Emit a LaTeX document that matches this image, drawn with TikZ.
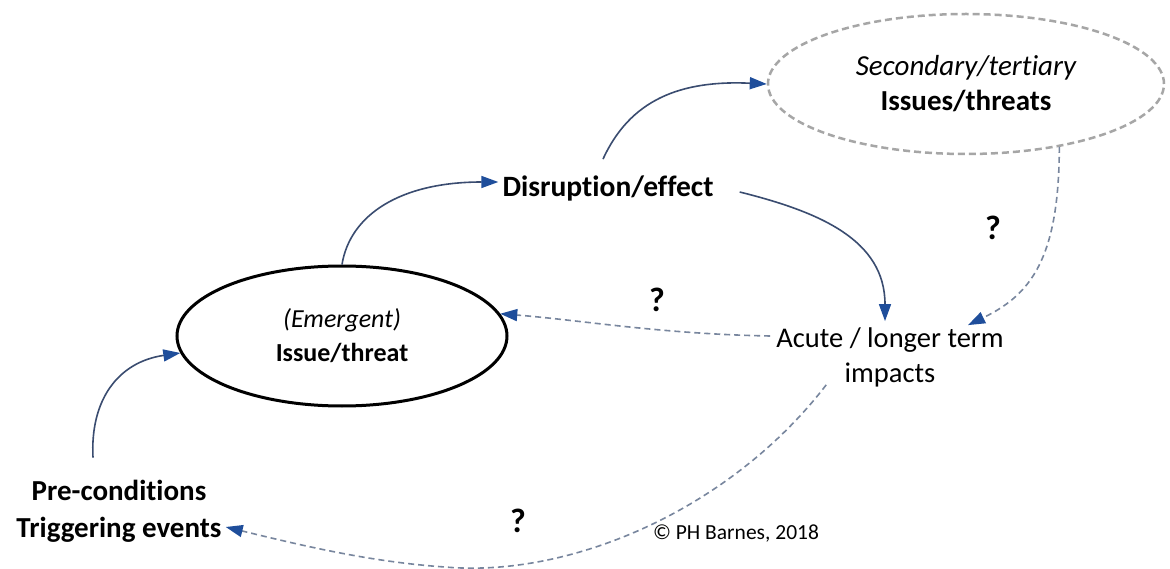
\documentclass[tikz,border=0pt]{standalone}
\usepackage{fontspec}
\setmainfont{Carlito}[Ligatures=NoCommon]
\usetikzlibrary{shapes.geometric,arrows.meta}
\definecolor{linkline}{RGB}{58,76,112}
\definecolor{tipblue}{RGB}{31,78,155}
\definecolor{dashline}{RGB}{120,134,158}
\definecolor{ringgray}{RGB}{166,166,166}
\tikzset{
  label28/.style={font=\fontsize{28.5}{35}\selectfont, align=center, inner sep=4pt},
  flow/.style={draw=linkline, line width=1.6pt,
    -{Triangle[length=17pt,width=12pt,color=tipblue,fill=tipblue]}},
  maybeflow/.style={draw=dashline, line width=1.6pt, dash pattern=on 6pt off 4pt,
    -{Triangle[length=17pt,width=12pt,color=tipblue,fill=tipblue]}},
  qmark/.style={font=\fontsize{34}{34}\selectfont\bfseries, inner sep=0pt}
}
\begin{document}
\begin{tikzpicture}[x=1pt,y=-1pt]
\useasboundingbox (0,0) rectangle (1170,569);
\fill[white] (0,0) rectangle (1170,569);

% main ellipses
\node[ellipse, draw=black, line width=3pt, minimum width=330pt, minimum height=140pt,
      align=center, font=\fontsize{26}{34}\selectfont] (emergent) at (342,336)
      {\itshape (Emergent)\\ \bfseries Issue/threat};
\node[ellipse, draw=ringgray, line width=2.5pt, dash pattern=on 7pt off 4pt,
      minimum width=396pt, minimum height=140pt,
      align=center, font=\fontsize{29}{35}\selectfont] (secondary) at (966,84)
      {\itshape Secondary/tertiary\\ \bfseries Issues/threats};

% text nodes
\node[label28, font=\fontsize{29.5}{35}\selectfont\bfseries] (disrupt) at (608,188) {Disruption/effect};
\node[label28, inner sep=6pt] (acute) at (890,357) {Acute / longer term\\impacts};
\node[label28, font=\fontsize{29}{37}\selectfont\bfseries] (pre) at (119,511) {Pre-conditions\\Triggering events};
\node[font=\fontsize{21.5}{21.5}\selectfont, inner sep=0pt] (copy) at (736,534) {© PH Barnes, 2018};

% question marks
\node[qmark] (q1) at (993,228) {?};
\node[qmark] (q2) at (657,300) {?};
\node[qmark] (q3) at (518,521) {?};

% solid links
\draw[flow] ([xshift=-26pt,yshift=18pt]pre.north) .. controls (90,400) and (118,362) .. (emergent.186);
\draw[flow] (emergent.north) .. controls (350,215) and (400,182) .. ([yshift=6pt]disrupt.west);
\draw[flow] ([xshift=-5pt,yshift=12pt]disrupt.north) .. controls (630,100) and (680,80) .. (secondary.west);
\draw[flow] ([xshift=22pt,yshift=-4pt]disrupt.east) .. controls (820,212) and (885,240) .. ([xshift=-5pt]acute.north);

% dashed links
\draw[maybeflow] (secondary.-34) .. controls (1059,260) and (1030,295) .. ([xshift=78pt,yshift=-4pt]acute.north);
\draw[maybeflow] ([yshift=21pt]acute.west) .. controls (660,334) and (580,320) .. (emergent.8);
\draw[maybeflow] ([xshift=56pt,yshift=8pt]acute.south west)
   .. controls (730,510) and (570,578) .. (445,567)
   .. controls (370,562) and (300,545) .. ([yshift=-16pt]pre.east);
\end{tikzpicture}
\end{document}
